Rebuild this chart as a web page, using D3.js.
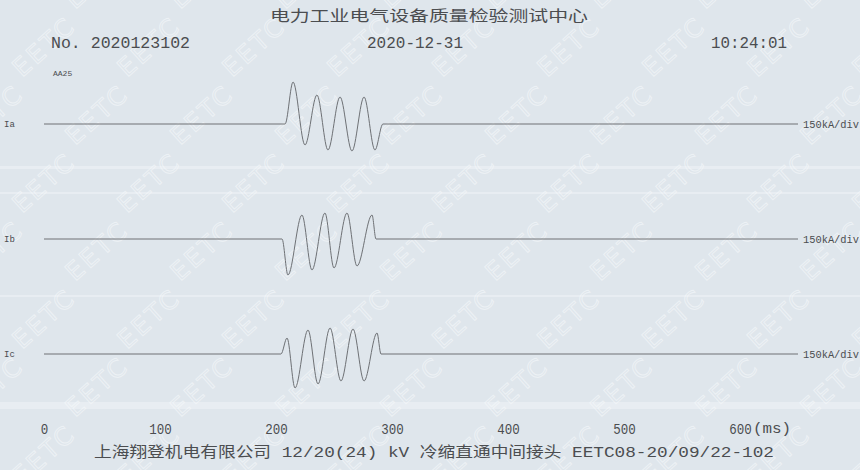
<!DOCTYPE html>
<html>
<head>
<meta charset="utf-8">
<script src="https://cdn.jsdelivr.net/npm/d3@7"></script>
<style>
  body { margin: 0; background: #dfe6ec; }
  svg { display: block; }
  text { font-family: "Liberation Mono", "Noto Sans CJK SC", monospace; fill: #4b4d50; }
</style>
</head>
<body>
<svg width="860" height="470"></svg>
<script>
// **** chart data ****
var titleText = "电力工业电气设备质量检验测试中心";
var reportNo = "No. 2020123102";
var reportDate = "2020-12-31";
var reportTime = "10:24:01";
var recorderTag = "AA25";
var footerText = "上海翔登机电有限公司 12/20(24) kV 冷缩直通中间接头 EETC08-20/09/22-102";

var timeTicks = [0, 100, 200, 300, 400, 500, 600];   // ms
var timeUnit = "(ms)";
var channels = ["Ia", "Ib", "Ic"];
var channelScales = ["150kA/div", "150kA/div", "150kA/div"];
var traceStart = 0, traceEnd = 650;                  // ms

// current waveforms, [time ms, current kA] at peaks / troughs
var iaWave = [[207.8, 0], [214.7, 210], [225, -105], [235.3, 145], [244.8, -130], [255.2, 135],
              [265.5, -135], [275.9, 135], [285.3, -130], [292.2, 0]];
var ibWave = [[205.2, 0], [210.3, -180], [222.4, 120], [231, -155], [242.2, 130], [250, -145],
              [261.2, 130], [269.8, -135], [282.8, 120], [286.2, 0]];
var icWave = [[204.3, 0], [209.5, 80], [216.4, -170], [227.6, 120], [236.2, -150], [246.6, 130],
              [256, -135], [266.4, 125], [275.9, -135], [287.1, 105], [290.5, 0]];
var waves = [iaWave, ibWave, icWave];

// **** scales ****
var svg = d3.select("svg");
var timeScale = d3.scaleLinear().domain([0, 600]).range([44, 740]);
var channelPos = d3.scalePoint().domain(channels).range([124, 354]);
var ampScale = d3.scaleLinear().domain([-150, 150]).range([30, -30]);  // 150kA per div

// **** paper texture: scan streaks and EETC watermark ****
[[166, 3], [192, 2], [295, 2], [402, 7]].forEach(function(s) {
    svg.append("rect").attr("x", 0).attr("y", s[0]).attr("width", 860).attr("height", s[1])
        .attr("fill", "#ffffff").attr("opacity", 0.3);
});
var mark = svg.append("g");
for (var r = 0; r < 8; r++) {
    for (var c = 0; c < 10; c++) {
        var wx = -30 + c * 105 + (r % 2) * 52;
        var wy = 10 + r * 68;
        mark.append("text")
            .attr("transform", "translate(" + wx + "," + wy + ") rotate(-42)")
            .style("font-family", "DejaVu Sans, sans-serif")
            .style("font-size", "25px")
            .style("letter-spacing", "3px")
            .style("fill", "none")
            .style("stroke", "#f6f9fb")
            .style("stroke-width", 1)
            .style("opacity", 0.6)
            .text("EETC");
    }
}

// **** header ****
svg.append("text").attr("x", 270).attr("y", 21).attr("textLength", 318)
    .attr("lengthAdjust", "spacingAndGlyphs").style("font-size", "15px").text(titleText);
svg.append("text").attr("x", 51).attr("y", 48).attr("textLength", 139)
    .attr("lengthAdjust", "spacingAndGlyphs").style("font-size", "17px").text(reportNo);
svg.append("text").attr("x", 367).attr("y", 48).attr("textLength", 96)
    .attr("lengthAdjust", "spacingAndGlyphs").style("font-size", "17px").text(reportDate);
svg.append("text").attr("x", 711).attr("y", 48).attr("textLength", 76)
    .attr("lengthAdjust", "spacingAndGlyphs").style("font-size", "17px").text(reportTime);
svg.append("text").attr("x", 53).attr("y", 76).style("font-size", "8px").text(recorderTag);

// **** traces ****
var line = d3.line()
    .x(function(d) { return timeScale(d[0]); })
    .y(function(d) { return ampScale(d[1]); })
    .curve(d3.curveMonotoneX);

channels.forEach(function(ch, i) {
    var g = svg.append("g").attr("transform", "translate(0," + channelPos(ch) + ")");
    var pts = [[traceStart, 0]].concat(waves[i]).concat([[traceEnd, 0]]);
    g.append("path").datum(pts)
        .attr("d", line)
        .attr("fill", "none")
        .attr("stroke", "#6e7175")
        .attr("stroke-width", 1);
    g.append("text").attr("x", 4).attr("y", 3).style("font-size", "9px").text(ch);
    g.append("text").attr("x", timeScale(traceEnd) + 5).attr("y", 4)
        .attr("textLength", 56).attr("lengthAdjust", "spacingAndGlyphs")
        .style("font-size", "10px").text(channelScales[i]);
});

// **** time axis ****
var axis = svg.append("g").attr("transform", "translate(0,421)")
    .call(d3.axisBottom(timeScale).tickValues(timeTicks).tickSize(0).tickPadding(0));
axis.select(".domain").remove();
axis.selectAll("text")
    .attr("dy", "0.9em")
    .style("font-family", "Liberation Mono, monospace")
    .style("font-size", "14px")
    .style("fill", "#4b4d50")
    .attr("textLength", function(d) { return String(d).length * 7.5; })
    .attr("lengthAdjust", "spacingAndGlyphs");
svg.append("text").attr("x", timeScale(600) + 13).attr("y", 433)
    .attr("textLength", 38).attr("lengthAdjust", "spacingAndGlyphs")
    .style("font-size", "14px").text(timeUnit);

// **** footer ****
svg.append("text").attr("x", 94).attr("y", 457).attr("textLength", 680)
    .attr("lengthAdjust", "spacingAndGlyphs").style("font-size", "15px").text(footerText);
</script>
</body>
</html>
